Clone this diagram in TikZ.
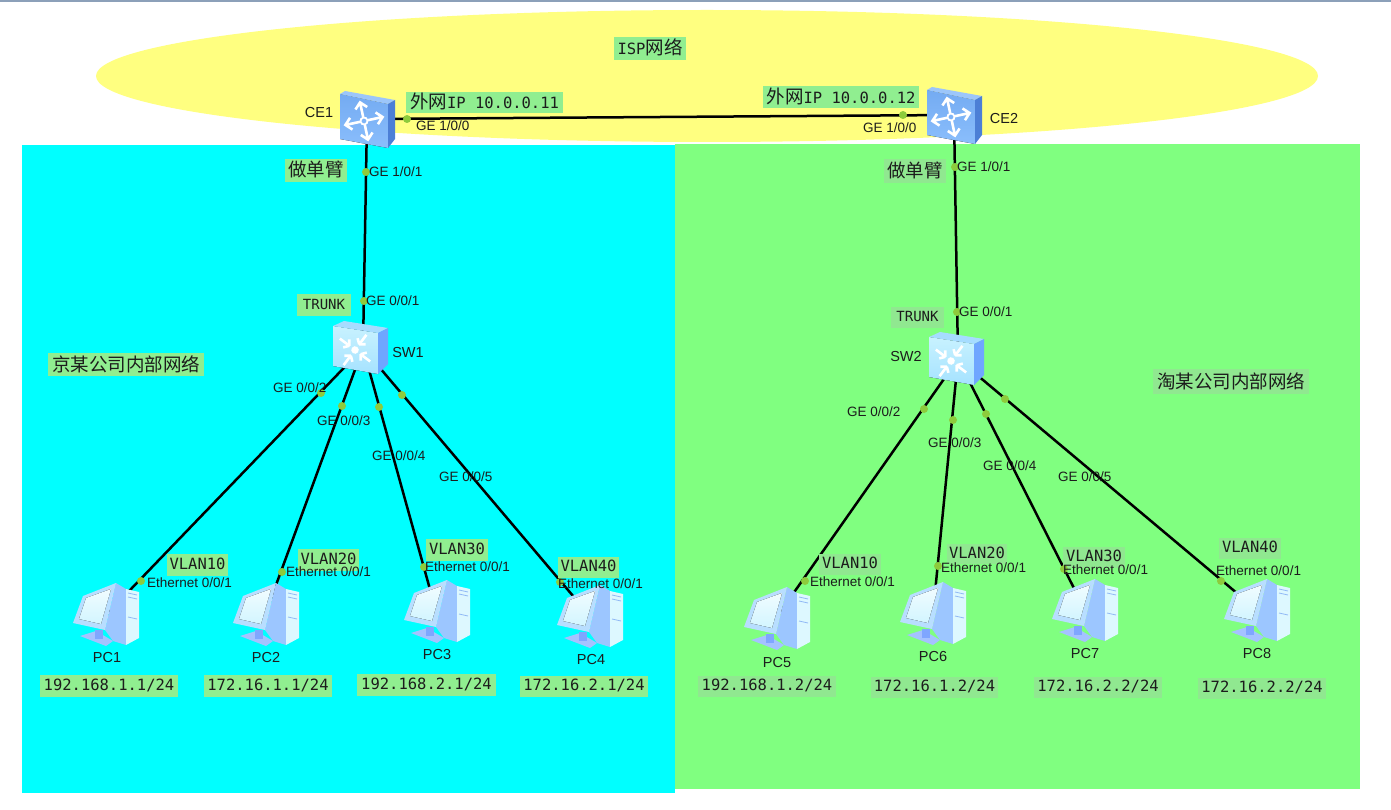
\documentclass[tikz,border=0pt]{standalone}
\usepackage{fontspec}
\setmainfont{Liberation Sans}
\setmonofont{DejaVu Sans Mono}
\newfontfamily\cjk{Noto Sans CJK SC}
\usetikzlibrary{shapes.geometric}
\definecolor{cyanzone}{HTML}{00FFFF}
\definecolor{greenzone}{HTML}{80FF80}
\definecolor{ispyellow}{HTML}{FFFF80}
\definecolor{labl}{HTML}{90EE90}
\definecolor{labr}{HTML}{90E890}
\definecolor{portc}{HTML}{8DCB3C}
\definecolor{inkc}{HTML}{1C1C1C}
\definecolor{topbar}{HTML}{8CA0B9}
\definecolor{rfront}{HTML}{8ABEFC}
\definecolor{rfronta}{HTML}{74ABF2}
\definecolor{rtop}{HTML}{9CC6FA}
\definecolor{rside}{HTML}{4C7FD6}
\definecolor{sfront}{HTML}{C8F2FF}
\definecolor{sfrontb}{HTML}{A5E2FF}
\definecolor{stop}{HTML}{A6DCFF}
\definecolor{sside}{HTML}{6FA6FF}
\definecolor{pcbase}{HTML}{A5C2FF}
\definecolor{pcstand}{HTML}{7FA6FF}
\definecolor{pcside}{HTML}{9CC6FF}
\definecolor{pcfront}{HTML}{DDF8FF}
\definecolor{pcline}{HTML}{8FB8F5}
\definecolor{pcmon}{HTML}{B8DEFF}
\definecolor{pcscr}{HTML}{F0FCFF}
\definecolor{pcscrb}{HTML}{D2F5FF}
\newcommand\fs[1]{\fontsize{#1}{#1}\selectfont}
\tikzset{
  x=1pt,y=-1pt,
  dev/.style={inner sep=0pt,minimum size=40pt},
  link/.style={draw=black,line width=2.5pt},
  port/.style={circle,fill=portc,inner sep=0pt,minimum size=8pt},
  portlab/.style={anchor=west,inner sep=0pt,text=inkc,font=\fs{13.5},text height=9.5pt,text depth=0pt},
  devlab/.style={inner sep=0pt,text=inkc,font=\fs{14.5},text height=10pt,text depth=0pt},
  labbox/.style={inner sep=0pt,text=inkc,font=\ttfamily\fs{15.5},text height=11pt,text depth=2.5pt},
  cjkbox/.style={inner sep=0pt,text=inkc,font=\cjk\fs{18.5},text height=15pt,text depth=2pt},
  routericon/.pic={
    \fill[top color=rfronta,bottom color=rfront] (0,3)--(48,13)--(48,57)--(0,48)--cycle;
    \fill[rtop] (0,3)--(5,0)--(55,9)--(48,13)--cycle;
    \fill[rside] (48,13)--(55,9)--(55,48)--(48,57)--cycle;
    \begin{scope}[shift={(24,30)},rotate=12]
      \foreach \a in {0,90,180,270}{
        \draw[white,line width=2.6pt,rotate=\a] (4,0)--(19,0) (13,-6)--(19,0)--(13,6);
      }
      \draw[white,line width=1.8pt] (0,0) circle (3.5);
    \end{scope}
  },
  switchicon/.pic={
    \fill[top color=sfront,bottom color=sfrontb] (0,5)--(45,12)--(45,53)--(0,45)--cycle;
    \fill[stop] (0,5)--(11,0)--(55,7)--(45,12)--cycle;
    \fill[sside] (45,12)--(55,7)--(55,43)--(45,53)--cycle;
    \begin{scope}[shift={(22,29)},rotate=8]
      \foreach \a in {45,135,225,315}{
        \draw[white,line width=2.6pt,rotate=\a] (7,0)--(19,0) (7,0)--(11,-5) (7,0)--(11,5);
      }
      \fill[white] (0,0) circle (3.8);
    \end{scope}
  },
  pcicon/.pic={
    \fill[pcbase] (7,53)--(23,48)--(40,58)--(33,63)--cycle;
    \fill[pcstand] (22,47)--(30,47)--(30,56)--(22,56)--cycle;
    \fill[pcside] (43,0)--(53,6)--(53,62)--(40,58)--(32,47)--cycle;
    \fill[pcfront] (53,6)--(66,9)--(66,55)--(53,62)--cycle;
    \draw[pcline,line width=.8pt] (55,10)--(64,12) (55,14)--(64,16) (55,34)--(64,36);
    \fill[pcmon] (0,40)--(10,13)--(43,0)--(32,47)--cycle;
    \fill[top color=pcscr,bottom color=pcscrb] (6,36)--(13,15)--(38,6)--(28,41)--cycle;
  },
}
\newcommand\boxlab[7]{%
  \pgfmathsetmacro\bw{#4-#2}\pgfmathsetmacro\bh{#5-#3}%
  \pgfmathsetmacro\bx{(#4+#2)/2}\pgfmathsetmacro\by{(#5+#3)/2}%
  \node[#6,minimum width=\bw pt,minimum height=\bh pt] (#1) at (\bx,\by) {#7};}
\begin{document}
\begin{tikzpicture}
\useasboundingbox (0,0) rectangle (1391,810);
\fill[white] (0,0) rectangle (1391,810);
\fill[topbar] (0,0) rectangle (1391,2);
\node[ellipse,fill=ispyellow,inner sep=0pt,minimum width=1222pt,minimum height=132pt] (isp) at (707,76) {};
\node[fill=cyanzone,inner sep=0pt,minimum width=653pt,minimum height=648pt] (zonea) at (348.5,469) {};
\node[fill=greenzone,inner sep=0pt,minimum width=685pt,minimum height=645pt] (zoneb) at (1017.5,466.5) {};
% device anchors
\node[dev] (ce1) at (367,119) {};
\node[dev] (ce2) at (954,115) {};
\node[dev] (sw1) at (363,348) {};
\node[dev] (sw2) at (958,359) {};
\node[dev] (pc1) at (106,615) {};
\node[dev] (pc2) at (265,615) {};
\node[dev] (pc3) at (436,611) {};
\node[dev] (pc4) at (590,616) {};
\node[dev] (pc5) at (776,618) {};
\node[dev] (pc6) at (933,613) {};
\node[dev] (pc7) at (1085,610) {};
\node[dev] (pc8) at (1257,610) {};
% connectors
\draw[link] (ce1.center)--(ce2.center);
\draw[link] (ce1.center)--(sw1.center);
\draw[link] (ce2.center)--(sw2.center);
\foreach \p in {pc1,pc2,pc3,pc4}{\draw[link] (sw1.center)--(\p.center);}
\foreach \p in {pc5,pc6,pc7,pc8}{\draw[link] (sw2.center)--(\p.center);}
% icons
\pic at (340,91) {routericon};
\pic at (927,87) {routericon};
\pic at (333,321) {switchicon};
\pic at (929,332) {switchicon};
\pic at (73,583) {pcicon};
\pic at (233,583) {pcicon};
\pic at (404,580) {pcicon};
\pic at (557,585) {pcicon};
\pic at (744,587) {pcicon};
\pic at (900,582) {pcicon};
\pic at (1052,579) {pcicon};
\pic at (1224,579) {pcicon};
% label boxes
\boxlab{lisp}{614}{37}{686}{60}{cjkbox,fill=labl}{{\ttfamily\fs{15.5}ISP}网络}
\boxlab{lip1}{406}{92}{563}{113}{cjkbox,fill=labl}{外网{\ttfamily\fs{15.5}IP 10.0.0.11}}
\boxlab{lip2}{763}{86}{919}{108}{cjkbox,fill=labl}{外网{\ttfamily\fs{15.5}IP 10.0.0.12}}
\boxlab{larm1}{285}{159}{347}{182}{cjkbox,fill=labl}{做单臂}
\boxlab{larm2}{884}{159}{946}{183}{cjkbox,fill=labr}{做单臂}
\boxlab{ltr1}{297}{294}{351}{316}{labbox,fill=labl,font=\ttfamily\fs{14}}{TRUNK}
\boxlab{ltr2}{891}{307}{944}{328}{labbox,fill=labr,font=\ttfamily\fs{14}}{TRUNK}
\boxlab{lco1}{48}{353}{204}{376}{cjkbox,fill=labl}{京某公司内部网络}
\boxlab{lco2}{1153}{369}{1309}{394}{cjkbox,fill=labr}{淘某公司内部网络}
\boxlab{lv1}{167}{554}{228}{576}{labbox,fill=labl}{VLAN10}
\boxlab{lv2}{298}{549}{359}{571}{labbox,fill=labl}{VLAN20}
\boxlab{lv3}{426}{539}{488}{561}{labbox,fill=labl}{VLAN30}
\boxlab{lv4}{558}{557}{619}{578}{labbox,fill=labl}{VLAN40}
\boxlab{lv5}{819}{554}{881}{575}{labbox,fill=labr}{VLAN10}
\boxlab{lv6}{947}{544}{1007}{564}{labbox,fill=labr}{VLAN20}
\boxlab{lv7}{1063}{547}{1125}{568}{labbox,fill=labr}{VLAN30}
\boxlab{lv8}{1219}{538}{1281}{559}{labbox,fill=labr}{VLAN40}
\boxlab{la1}{40}{675}{178}{697}{labbox,fill=labl}{192.168.1.1/24}
\boxlab{la2}{204}{675}{332}{697}{labbox,fill=labl}{172.16.1.1/24}
\boxlab{la3}{357}{674}{496}{696}{labbox,fill=labl}{192.168.2.1/24}
\boxlab{la4}{520}{676}{648}{697}{labbox,fill=labl}{172.16.2.1/24}
\boxlab{la5}{698}{676}{836}{697}{labbox,fill=labr}{192.168.1.2/24}
\boxlab{la6}{871}{677}{998}{698}{labbox,fill=labr}{172.16.1.2/24}
\boxlab{la7}{1034}{677}{1162}{698}{labbox,fill=labr}{172.16.2.2/24}
\boxlab{la8}{1198}{678}{1326}{699}{labbox,fill=labr}{172.16.2.2/24}
% ports
\node[port] (d1) at (407,119) {};
\node[port] (d2) at (903,115) {};
\node[port] (d3) at (366,172) {};
\node[port] (d4) at (364,301) {};
\node[port] (d5) at (955,167) {};
\node[port] (d6) at (957,312) {};
\node[port] (d7) at (321,393) {};
\node[port] (d8) at (342,406) {};
\node[port] (d9) at (379,407) {};
\node[port] (d10) at (402,395) {};
\node[port] (d11) at (924,409) {};
\node[port] (d12) at (953,420) {};
\node[port] (d13) at (986,414) {};
\node[port] (d14) at (1005,399) {};
\node[port] (d15) at (141,581) {};
\node[port] (d16) at (282,572) {};
\node[port] (d17) at (424,567) {};
\node[port] (d18) at (560,582) {};
\node[port] (d19) at (805,581) {};
\node[port] (d20) at (938,566) {};
\node[port] (d21) at (1064,569) {};
\node[port] (d22) at (1221,581) {};
% port labels
\node[portlab] (g1) at (416,126) {GE 1/0/0};
\node[portlab] (g2) at (369,172) {GE 1/0/1};
\node[portlab] (g3) at (863,128) {GE 1/0/0};
\node[portlab] (g4) at (957,167) {GE 1/0/1};
\node[portlab] (g5) at (366,301) {GE 0/0/1};
\node[portlab] (g6) at (273,388) {GE 0/0/2};
\node[portlab] (g7) at (317,421) {GE 0/0/3};
\node[portlab] (g8) at (372,456) {GE 0/0/4};
\node[portlab] (g9) at (439,477) {GE 0/0/5};
\node[portlab] (g10) at (959,312) {GE 0/0/1};
\node[portlab] (g11) at (847,412) {GE 0/0/2};
\node[portlab] (g12) at (928,443) {GE 0/0/3};
\node[portlab] (g13) at (983,466) {GE 0/0/4};
\node[portlab] (g14) at (1058,477) {GE 0/0/5};
\node[portlab] (e1) at (147,583) {Ethernet 0/0/1};
\node[portlab] (e2) at (286,572) {Ethernet 0/0/1};
\node[portlab] (e3) at (425,567) {Ethernet 0/0/1};
\node[portlab] (e4) at (558,584) {Ethernet 0/0/1};
\node[portlab] (e5) at (810,582) {Ethernet 0/0/1};
\node[portlab] (e6) at (941,567.5) {Ethernet 0/0/1};
\node[portlab] (e7) at (1063,570) {Ethernet 0/0/1};
\node[portlab] (e8) at (1216,571) {Ethernet 0/0/1};
% device names
\node[devlab] (nce1) at (319,113) {CE1};
\node[devlab] (nce2) at (1004,119) {CE2};
\node[devlab] (nsw1) at (408,352) {SW1};
\node[devlab] (nsw2) at (906,356) {SW2};
\node[devlab] (n1) at (107,657) {PC1};
\node[devlab] (n2) at (266,657) {PC2};
\node[devlab] (n3) at (437,654) {PC3};
\node[devlab] (n4) at (591,659) {PC4};
\node[devlab] (n5) at (777,662) {PC5};
\node[devlab] (n6) at (933,656) {PC6};
\node[devlab] (n7) at (1085,653) {PC7};
\node[devlab] (n8) at (1257,653) {PC8};
\end{tikzpicture}
\end{document}
